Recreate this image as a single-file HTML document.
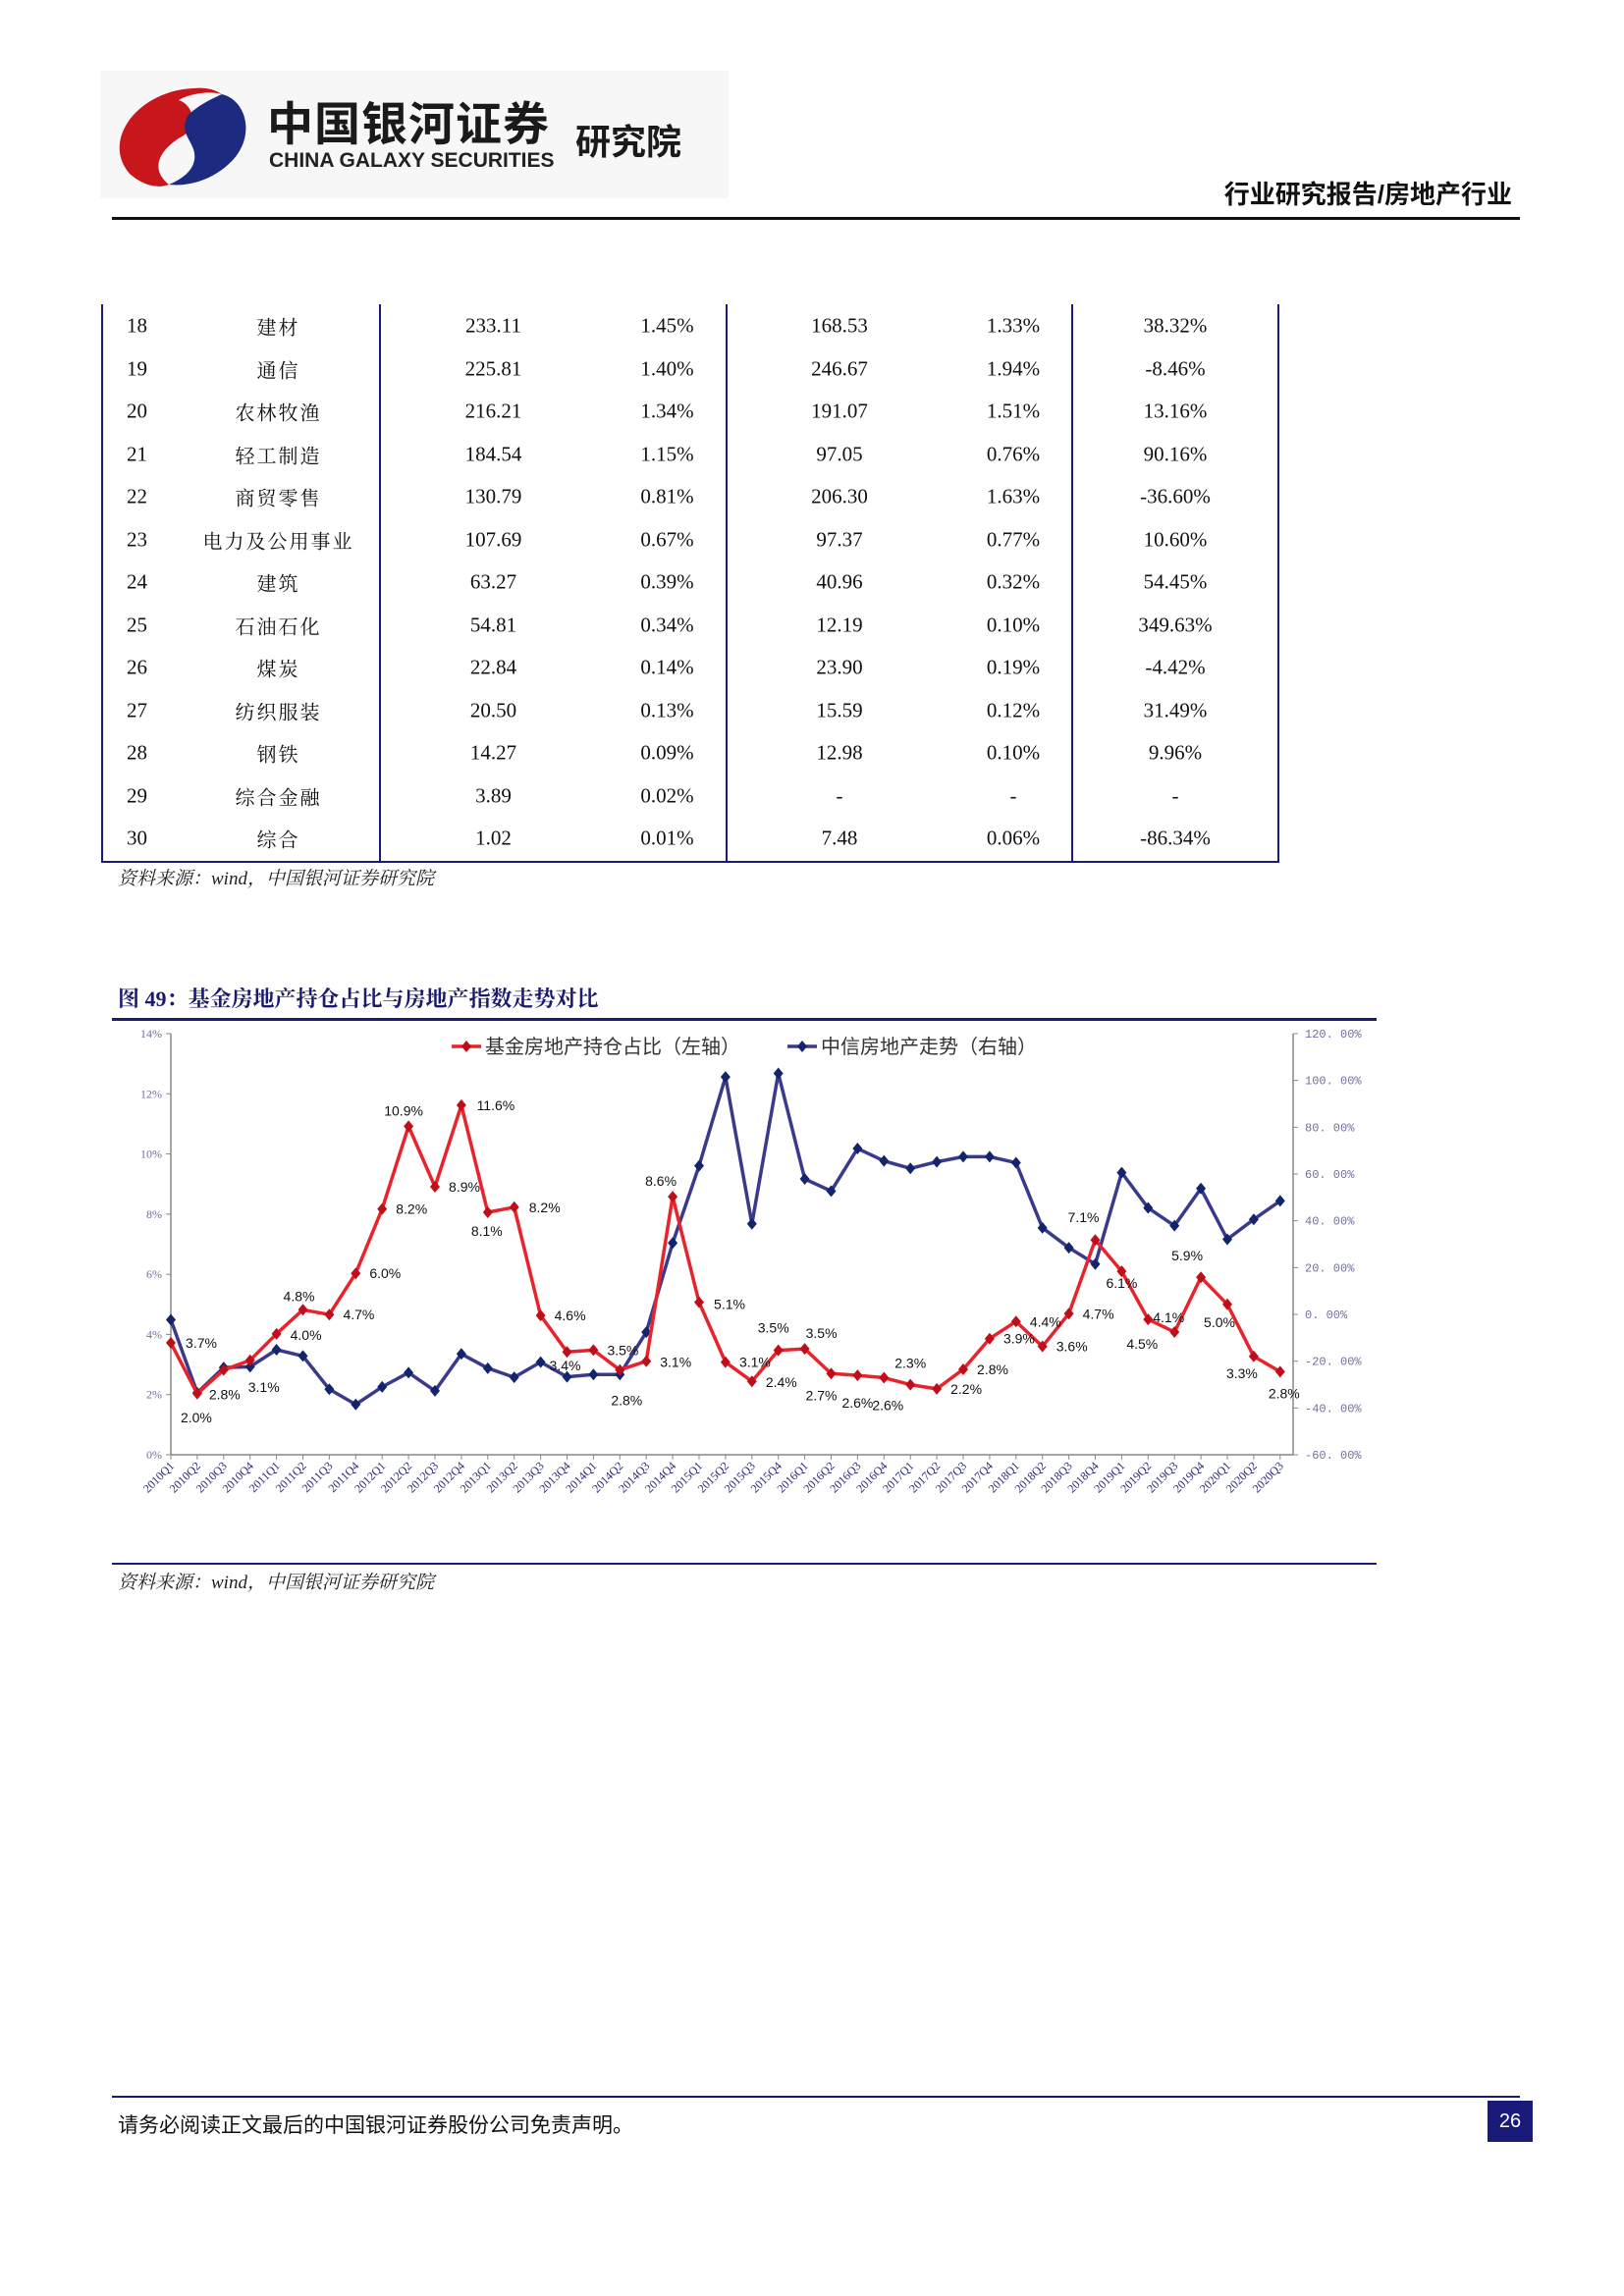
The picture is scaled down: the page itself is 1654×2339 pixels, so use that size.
<!DOCTYPE html>
<html><head><meta charset="utf-8">
<style>
body{margin:0;background:#fff;}
#page{position:relative;width:1654px;height:2339px;overflow:hidden;background:#fff;font-family:"Liberation Serif","Noto Serif CJK SC",serif;}
.abs{position:absolute;}
.cell{position:absolute;font-size:21px;color:#111;transform:translate(-50%,-50%);white-space:nowrap;}
.vline{position:absolute;width:2px;background:#1a1a7a;}
.hline{position:absolute;height:2px;background:#1a1a7a;}
.src{position:absolute;font-size:19px;font-style:italic;color:#222;font-family:"Liberation Serif","Noto Serif CJK SC",serif;}
</style></head><body>
<div id="page">

<div class="abs" style="left:102px;top:72px;width:640px;height:130px;background:#f7f7f7;">
 <svg width="640" height="130">
  <path d="M95 18 C40 20 0 70 30 105 C45 118 60 120 70 116 C50 100 60 80 85 66 C100 56 95 35 80 30 C90 24 110 20 124 24 C115 18 105 17 95 18Z" fill="#c8161d"/>
  <path d="M124 24 C150 30 160 70 130 96 C110 114 85 118 70 116 C90 108 100 95 95 80 C92 70 80 60 90 45 C100 35 115 28 124 24Z" fill="#1c2a80"/>
 </svg>
</div>
<div class="abs" style="left:272px;top:93px;font-size:47px;font-weight:bold;color:#1a1a1a;font-family:'Noto Sans CJK SC',sans-serif;line-height:60px;letter-spacing:1px;">中国银河证券</div>
<div class="abs" style="left:274px;top:152px;font-size:21px;font-weight:bold;color:#222;font-family:'Liberation Sans',sans-serif;">CHINA GALAXY SECURITIES</div>
<div class="abs" style="left:586px;top:116px;font-size:36px;font-weight:bold;color:#1a1a1a;font-family:'Noto Sans CJK SC',sans-serif;">研究院</div>
<div class="abs" style="right:114px;top:178px;font-size:26px;font-weight:bold;color:#111;font-family:'Liberation Sans','Noto Sans CJK SC',sans-serif;">行业研究报告/房地产行业</div>
<div class="abs" style="left:114px;top:221px;width:1434px;height:3px;background:#111;"></div>

<div id="table"></div>
<div class="src" style="left:120px;top:880px;">资料来源：wind，中国银河证券研究院</div>

<div class="abs" style="left:120px;top:1001px;font-size:22px;font-weight:bold;color:#1a1a6e;font-family:'Liberation Serif','Noto Serif CJK SC',serif;">图 49：基金房地产持仓占比与房地产指数走势对比</div>
<div class="abs" style="left:114px;top:1037px;width:1288px;height:3px;background:#1a1a7a;"></div>

<svg id="chart" class="abs" style="left:0;top:0;" width="1654" height="1620"></svg>

<div class="abs" style="left:114px;top:1592px;width:1288px;height:2px;background:#1a1a7a;"></div>
<div class="src" style="left:120px;top:1597px;">资料来源：wind，中国银河证券研究院</div>

<div class="abs" style="left:114px;top:2135px;width:1434px;height:2px;background:#1a1a7a;"></div>
<div class="abs" style="left:120px;top:2149px;font-size:21px;color:#111;font-family:'Liberation Sans','Noto Sans CJK SC',sans-serif;">请务必阅读正文最后的中国银河证券股份公司免责声明。</div>
<div class="abs" style="left:1515px;top:2140px;width:46px;height:42px;background:#1a1a7a;color:#fff;font-size:20px;line-height:42px;text-align:center;font-family:'Liberation Sans',sans-serif;">26</div>
</div>

<script>
// ---------- table data ----------
const rowNums = ['18','19','20','21','22','23','24','25','26','27','28','29','30'];
const rowNames = ['建材','通信','农林牧渔','轻工制造','商贸零售','电力及公用事业','建筑','石油石化','煤炭','纺织服装','钢铁','综合金融','综合'];
const colA = ['233.11','225.81','216.21','184.54','130.79','107.69','63.27','54.81','22.84','20.50','14.27','3.89','1.02'];
const colB = ['1.45%','1.40%','1.34%','1.15%','0.81%','0.67%','0.39%','0.34%','0.14%','0.13%','0.09%','0.02%','0.01%'];
const colC = ['168.53','246.67','191.07','97.05','206.30','97.37','40.96','12.19','23.90','15.59','12.98','-','7.48'];
const colD = ['1.33%','1.94%','1.51%','0.76%','1.63%','0.77%','0.32%','0.10%','0.19%','0.12%','0.10%','-','0.06%'];
const colE = ['38.32%','-8.46%','13.16%','90.16%','-36.60%','10.60%','54.45%','349.63%','-4.42%','31.49%','9.96%','-','-86.34%'];

const tbl = document.getElementById('table');
const colX = [139.5,283.5,502.5,679.5,855,1032,1197];
const cols = [rowNums,rowNames,colA,colB,colC,colD,colE];
const colNames = ['rank','industry','holding-value','holding-share','prev-value','prev-share','change'];
for(let r=0;r<rowNums.length;r++){
  for(let c=0;c<cols.length;c++){
    const d=document.createElement('div');
    d.className='cell';
    d.style.left=colX[c]+'px';
    d.style.top=(332+r*43.5)+'px';
    if(c===1){d.style.fontFamily="'Noto Serif CJK SC',serif";d.style.letterSpacing='2px';d.style.fontSize='20px';}
    d.textContent=cols[c][r];
    
    
    tbl.appendChild(d);
  }
}
[103,386,739,1091,1301].forEach((x,i)=>{
  const v=document.createElement('div');v.className='vline';
  v.style.left=x+'px';v.style.top='310px';v.style.height='569px';
  
  
  tbl.appendChild(v);
});
const hb=document.createElement('div');hb.className='hline';
hb.style.left='103px';hb.style.top='877px';hb.style.width='1200px';


tbl.appendChild(hb);

// ---------- chart data ----------
const categories = ['2010Q1','2010Q2','2010Q3','2010Q4','2011Q1','2011Q2','2011Q3','2011Q4','2012Q1','2012Q2','2012Q3','2012Q4','2013Q1','2013Q2','2013Q3','2013Q4','2014Q1','2014Q2','2014Q3','2014Q4','2015Q1','2015Q2','2015Q3','2015Q4','2016Q1','2016Q2','2016Q3','2016Q4','2017Q1','2017Q2','2017Q3','2017Q4','2018Q1','2018Q2','2018Q3','2018Q4','2019Q1','2019Q2','2019Q3','2019Q4','2020Q1','2020Q2','2020Q3'];
const fundShare = [3.72,2.03,2.82,3.14,4.02,4.82,4.66,6.03,8.17,10.92,8.91,11.62,8.06,8.23,4.63,3.42,3.48,2.82,3.11,8.58,5.07,3.08,2.44,3.47,3.52,2.70,2.64,2.56,2.33,2.19,2.84,3.86,4.43,3.60,4.69,7.14,6.10,4.50,4.08,5.90,5.00,3.27,2.76];
const indexTrend = [-2.3,-33.5,-22.7,-22.4,-15.1,-17.8,-32,-38.5,-31,-24.9,-32.7,-16.9,-23,-26.9,-20.4,-26.7,-25.7,-25.7,-7.6,30.5,63.5,101.5,38.7,103,57.9,52.7,70.9,65.6,62.4,65.2,67.4,67.4,64.8,37,28.5,21.5,60.6,45.5,37.9,53.8,32.1,40.6,48.5];
const leftTicks = [0,2,4,6,8,10,12,14];
const rightTicks = [-60,-40,-20,0,20,40,60,80,100,120];
// label offsets (layout, not data)
const lblDx=[31,-1,1,14,30,-4,30,30,30,-5,30,35,-1,31,30,-2,30,7,30,-12,31,30,30,-5,17,-10,0,4,0,30,30,30,30,30,30,-12,0,-6,-6,-14,-8,-12,4];
const lblDy=[0,24,25,27,1,-14,0,0,0,-16,0,0,19,0,0,14,0,31,1,-16,2,0,1,-23,-16,22,28,28,-22,0,0,0,0,0,0,-23,12,25,-15,-22,18,17,22];

const svg=document.getElementById('chart');
const NS='http://www.w3.org/2000/svg';
const x0=174, xStep=26.9, yBase=1482, yTop=1053, xR=1317;
const xAt=i=>x0+i*xStep;
const yL=v=>yBase-(v-0)/14*(yBase-yTop);
const yR=v=>yBase-(v+60)/180*(yBase-yTop);
function el(tag,attrs,parent){const e=document.createElementNS(NS,tag);for(const k in attrs)e.setAttribute(k,attrs[k]);(parent||svg).appendChild(e);return e;}

let a=el('line',{x1:x0,y1:yTop,x2:x0,y2:yBase,stroke:'#888','stroke-width':1.5});


a=el('line',{x1:xR,y1:yTop,x2:xR,y2:yBase,stroke:'#888','stroke-width':1.5});


a=el('line',{x1:x0,y1:yBase,x2:xR,y2:yBase,stroke:'#888','stroke-width':1.5});



leftTicks.forEach(v=>{
  const y=yL(v);
  el('line',{x1:x0-5,y1:y,x2:x0,y2:y,stroke:'#888'});
  const t=el('text',{x:x0-9,y:y+4,'text-anchor':'end','font-size':12,fill:'#7070a0','font-family':'Liberation Serif, serif'});
  t.textContent=v+'%';
  
  
});
rightTicks.forEach(v=>{
  const y=yR(v);
  el('line',{x1:xR,y1:y,x2:xR+5,y2:y,stroke:'#888'});
  const t=el('text',{x:xR+12,y:y+4,'font-size':12,fill:'#7070a0','font-family':'Liberation Mono, monospace'});
  t.textContent=(v<0?'-':'')+Math.abs(v).toFixed(2).replace('.', '. ')+'%';
  
  
});
categories.forEach((c,i)=>{
  const x=xAt(i);
  el('line',{x1:x,y1:yBase,x2:x,y2:yBase+5,stroke:'#888'});
  const t=el('text',{x:x+4,y:yBase+12,'text-anchor':'end','font-size':12,fill:'#2a2a7a','font-family':'Liberation Serif, serif',transform:`rotate(-45 ${x+4} ${yBase+12})`});
  t.textContent=c;
  
  
});

function series(vals,yf,color,name){
  const pts=vals.map((v,i)=>xAt(i)+','+yf(v)).join(' ');
  const p=el('polyline',{points:pts,fill:'none',stroke:color,'stroke-width':3.5,'stroke-linejoin':'round'});
  
  
  vals.forEach((v,i)=>{
    const x=xAt(i),y=yf(v);
    const m=el('polygon',{points:`${x},${y-6} ${x+5},${y} ${x},${y+6} ${x-5},${y}`,fill:color==='#e8232b'?'#c00d1a':'#12246a'});
    
    
  });
}
series(indexTrend,yR,'#3a3a8c','index-trend');
series(fundShare,yL,'#e8232b','fund-share');
fundShare.forEach((v,i)=>{
  const t=el('text',{x:xAt(i)+lblDx[i],y:yL(v)+lblDy[i]+5,'text-anchor':'middle','font-size':14,fill:'#111','font-family':'Liberation Sans, sans-serif'});
  t.textContent=v.toFixed(1)+'%';
  
  
});

const lg=el('g',{});


el('line',{x1:460,y1:1066,x2:490,y2:1066,stroke:'#e8232b','stroke-width':3.5},lg);
el('polygon',{points:'475,1060 480,1066 475,1072 470,1066',fill:'#c00d1a'},lg);
let lt=el('text',{x:494,y:1073,'font-size':20,fill:'#333','font-family':'Noto Sans CJK SC, sans-serif'},lg);
lt.textContent='基金房地产持仓占比（左轴）';


el('line',{x1:802,y1:1066,x2:832,y2:1066,stroke:'#3a3a8c','stroke-width':3.5},lg);
el('polygon',{points:'817,1060 822,1066 817,1072 812,1066',fill:'#12246a'},lg);
lt=el('text',{x:836,y:1073,'font-size':20,fill:'#333','font-family':'Noto Sans CJK SC, sans-serif'},lg);
lt.textContent='中信房地产走势（右轴）';


</script>
</body></html>
